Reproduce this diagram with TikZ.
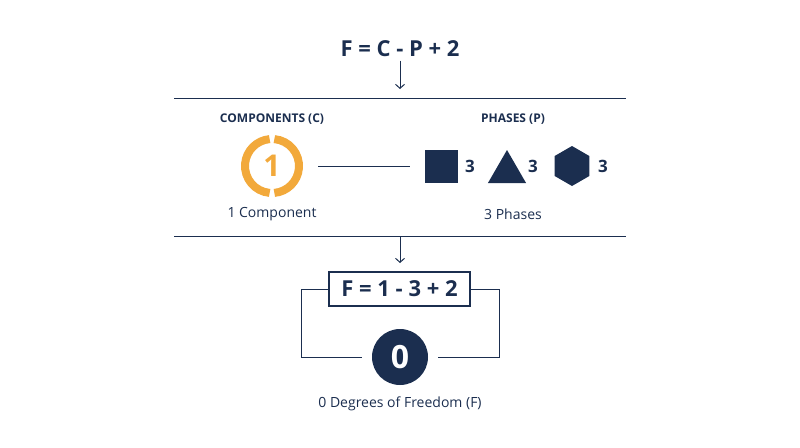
\documentclass[tikz,border=0pt]{standalone}
\usepackage{fontspec}
\setmainfont{Open Sans}
\usetikzlibrary{arrows.meta,shapes.geometric}
\definecolor{navy}{HTML}{1B2E4F}
\definecolor{gold}{HTML}{F2A93B}
\tikzset{
    title/.style = {
        font=\fontsize{22}{26}\selectfont\bfseries,
        text=navy,
        },
    head/.style = {
        font=\fontsize{12}{14}\selectfont\bfseries,
        text=navy,
        },
    caption/.style = {
        font=\fontsize{14}{16}\selectfont,
        text=navy,
        },
    count/.style = {
        font=\fontsize{17}{19}\selectfont\bfseries,
        text=navy,
        },
    rule/.style = {
        draw=navy,
        line width=1pt,
        },
    phase/.style = {
        fill=navy,
        inner sep=0pt,
        },
}
\begin{document}
\begin{tikzpicture}[x=1pt,y=-1pt,>={Straight Barb[length=4pt,width=9pt]}]
    \useasboundingbox (0,0) rectangle (800,447);

    \node[title] (eq) at (400,49) {F = C - P + 2};
    \coordinate (top) at (400,89);
    \draw[rule, ->] (eq.south) -- (top);
    \coordinate (r1a) at (174,98);
    \coordinate (r1b) at (626,98);
    \draw[rule] (r1a) -- (r1b);

    % components
    \node[head] (comph) at (272,119) {COMPONENTS (C)};
    \node (ring) at (272,166) {};
    \draw[gold, line width=8pt] (272,166) ++(95:27) arc (95:265:27);
    \draw[gold, line width=8pt] (272,166) ++(-85:27) arc (-85:85:27);
    \node[text=gold, font=\fontsize{30}{32}\selectfont\bfseries] at (272,166) {1};
    \node[caption] (compc) at (272,214) {1 Component};

    % phases
    \node[head] (phaseh) at (513,119) {PHASES (P)};
    \coordinate (la) at (318,166);
    \coordinate (lb) at (410,166);
    \draw[rule] (la) -- (lb);
    \node[phase, minimum size=33pt] (sq) at (441.5,166.5) {};
    \node[count] (n1) at (470,166) {3};
    \node[phase, regular polygon, regular polygon sides=3, minimum size=44pt] (tri) at (507,172) {};
    \node[count] (n2) at (533,166) {3};
    \node[phase, regular polygon, regular polygon sides=6, shape border rotate=30, minimum size=40pt] (hex) at (572,166) {};
    \node[count] (n3) at (603,166) {3};
    \node[caption] (phasec) at (513,214) {3 Phases};

    \coordinate (r2a) at (174,236);
    \coordinate (r2b) at (626,236);
    \draw[rule] (r2a) -- (r2b);
    \coordinate (mid) at (400,237);
    \coordinate (bot) at (400,263);
    \draw[rule, ->] (mid) -- (bot);

    % result
    \node[title, draw=navy, line width=1.2pt, minimum width=141pt, minimum height=34pt] (calc) at (399.5,289) {F = 1 - 3 + 2};
    \node[circle, fill=navy, minimum size=56pt, text=white, font=\fontsize{32}{34}\selectfont\bfseries] (res) at (400,357) {0};
    \draw[rule] (calc.west) -| (301,357) -- (362,357);
    \draw[rule] (calc.east) -| (499,357) -- (438,357);
    \node[caption] (resc) at (400,404) {0 Degrees of Freedom (F)};
\end{tikzpicture}
\end{document}
